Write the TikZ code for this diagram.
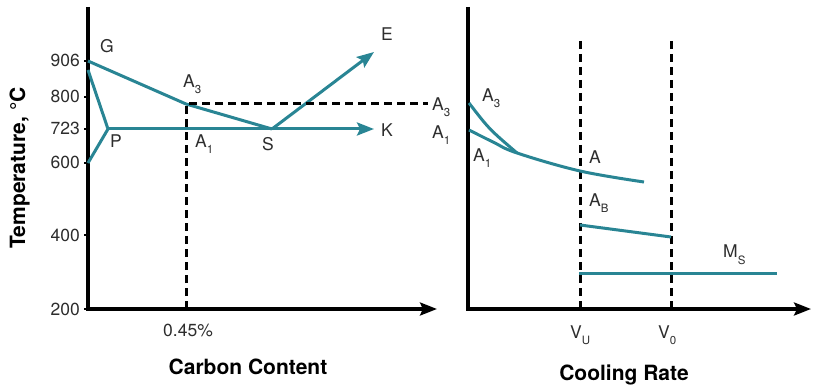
\documentclass[tikz,border=0pt]{standalone}
\usepackage{fontspec}
\setmainfont{TeX Gyre Heros}
\usetikzlibrary{arrows.meta}
\definecolor{steelteal}{RGB}{41,133,148}
\definecolor{labelgray}{RGB}{45,45,45}
\newcommand{\lowsub}[1]{\raisebox{-6pt}{\fontsize{11.5}{11.5}\selectfont #1}}

\begin{document}
\begin{tikzpicture}[x=1pt, y=-1pt, >={Stealth[length=17pt, width=13pt, inset=3pt]},
	every node/.style={font=\fontsize{17.5}{17.5}\selectfont, text=labelgray, inner sep=0pt},
	title/.style={font=\fontsize{21}{21}\selectfont\bfseries, text=black},
	axis/.style={line width=3.2pt, black},
	curve/.style={line width=3pt, steelteal},
	guide/.style={line width=3pt, black, dash pattern=on 8pt off 5pt}]
	\useasboundingbox (0,0) rectangle (813,387);
	
	% 1. 坐标轴
	\coordinate (T1) at (88,7);
	\coordinate (O1) at (88,309);
	\coordinate (X1) at (437,309);
	\draw[axis, ->] (T1) -- (O1) -- (X1);
	\coordinate (T2) at (468,7);
	\coordinate (O2) at (468,309);
	\coordinate (X2) at (811,309);
	\draw[axis, ->] (T2) -- (O2) -- (X2);
	
	% 刻度
	\foreach \val/\yy in {906/61, 800/97, 723/129, 600/163, 400/235, 200/309} {
		\node[anchor=base east] (t\val) at (80,\yy+6) {\val};
		\draw[line width=1.5pt] (84,\yy) -- (88,\yy);
	}
	\node[title, rotate=90, anchor=base] (ylab) at (25,168) {Temperature, °C};
	\node[title, anchor=base] (xlab1) at (248,374) {Carbon Content};
	\node[title, anchor=base] (xlab2) at (624,380) {Cooling Rate};
	
	% 2. 左图相线
	\coordinate (G0) at (88,61);
	\coordinate (A3p) at (186,104);
	\coordinate (S) at (272,129);
	\coordinate (G1) at (88,70);
	\coordinate (P) at (108,129);
	\coordinate (G2) at (88,163);
	\coordinate (Ktip) at (374,129);
	\coordinate (Etip) at (374,52);
	\draw[curve] (G0) -- (A3p) -- (S);
	\draw[curve] (G1) -- (P) -- (G2);
	\draw[curve, ->] (P) -- (Ktip);
	\draw[curve, ->] (S) -- (Etip);
	
	% 辅助虚线
	\coordinate (C45) at (186,309);
	\coordinate (D3) at (428,104);
	\draw[guide] (C45) -- (A3p) -- (D3);
	
	\node[anchor=base west] (G) at (100,53) {G};
	\node[anchor=base west] (E) at (381,41) {E};
	\node[anchor=base west] (K) at (381,137) {K};
	\node[anchor=base west] (Pl) at (110,148) {P};
	\node[anchor=base west] (Sl) at (262,151) {S};
	\node[anchor=base west] (A3l) at (183,88) {A\lowsub{3}};
	\node[anchor=base west] (A1l) at (195,148) {A\lowsub{1}};
	\node[anchor=base west] (A3m) at (432,111) {A\lowsub{3}};
	\node[anchor=base west] (A1m) at (432,139) {A\lowsub{1}};
	\node[anchor=base west] (c045) at (163,336) {0.45\%};
	
	% 3. 右图冷却曲线
	\coordinate (VUt) at (580,41);
	\coordinate (VUb) at (580,309);
	\coordinate (V0t) at (671,41);
	\coordinate (V0b) at (671,309);
	\draw[guide] (VUt) -- (VUb);
	\draw[guide] (V0t) -- (V0b);
	
	\coordinate (J) at (517,153);
	\draw[curve] (469,103) .. controls (489,129) .. (J);
	\draw[curve] plot[smooth, tension=0.6] coordinates {(469,130) (493,142) (J) (580,171) (644,182)};
	\coordinate (AB0) at (580,225);
	\coordinate (AB1) at (671,237);
	\draw[curve] (AB0) -- (AB1);
	\coordinate (MS0) at (579,273);
	\coordinate (MS1) at (777,273);
	\draw[curve] (MS0) -- (MS1);
	
	\node[anchor=base west] (A3r) at (482,102) {A\lowsub{3}};
	\node[anchor=base west] (A1r) at (473,162) {A\lowsub{1}};
	\node[anchor=base west] (Ar) at (589,164) {A};
	\node[anchor=base west] (ABr) at (589,207) {A\lowsub{B}};
	\node[anchor=base west] (MSr) at (723,258) {M\lowsub{S}};
	\node[anchor=base west] (VU) at (570,338) {V\lowsub{U}};
	\node[anchor=base west] (V0) at (658,338) {V\lowsub{0}};
\end{tikzpicture}
\end{document}
